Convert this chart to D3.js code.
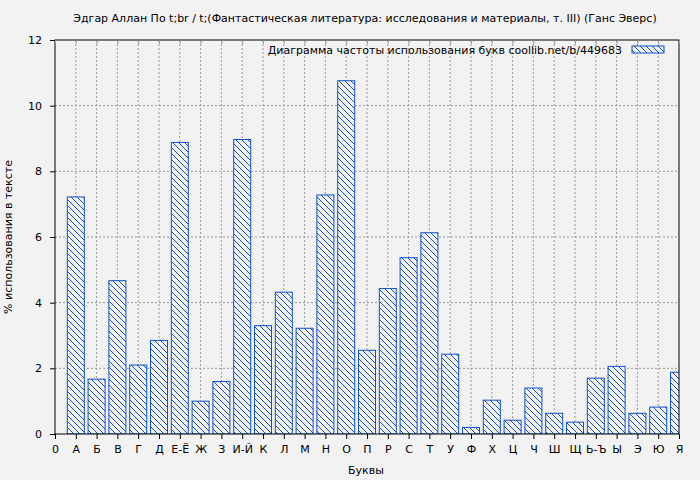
<!DOCTYPE html>
<html lang="ru">
<head>
<meta charset="UTF-8">
<title>Chart</title>
<style>
  body { margin: 0; background: #f2f2f2; }
  text { font-family: "DejaVu Sans", sans-serif; font-size: 11px; fill: #000; }
</style>
</head>
<body>
<div id="root"></div>
<script src="https://d3js.org/d3.v7.min.js"></script>
<script>
const letters = ["0","А","Б","В","Г","Д","Е-Ё","Ж","З","И-Й","К","Л","М","Н","О","П","Р","С","Т","У","Ф","Х","Ц","Ч","Ш","Щ","Ь-Ъ","Ы","Э","Ю","Я"]
const values = [7.22,1.67,4.67,2.1,2.85,8.88,1.0,1.6,8.97,3.3,4.32,3.22,7.28,10.76,2.55,4.43,5.37,6.13,2.43,0.2,1.03,0.42,1.4,0.63,0.36,1.7,2.06,0.63,0.82,1.88]
const yTicks = [0,2,4,6,8,10,12]

const W = 700, H = 480
const margin = {top: 40, right: 21, bottom: 46, left: 55}
const blue = "#1050c8"

const svg = d3.select("#root").append("svg").attr("width", W).attr("height", H)
svg.append("rect").attr("width", W).attr("height", H).attr("fill", "#f2f2f2")

const defs = svg.append("defs")
const pat = defs.append("pattern").attr("id", "hatch").attr("patternUnits", "userSpaceOnUse")
  .attr("width", 6).attr("height", 6)
pat.append("rect").attr("width", 6).attr("height", 6).attr("fill", "#f2f2f2")
pat.append("path").attr("d", "M0,0 L6,6 M-3,3 L3,9 M3,-3 L9,3").attr("stroke", blue).attr("stroke-width", 1)
defs.append("clipPath").attr("id", "clip").append("rect")
  .attr("x", margin.left).attr("y", margin.top)
  .attr("width", W - margin.left - margin.right).attr("height", H - margin.top - margin.bottom)

const x = d3.scaleLinear().domain([0, letters.length - 1]).range([margin.left, W - margin.right])
const y = d3.scaleLinear().domain([0, 12]).range([H - margin.bottom, margin.top])

// grid
svg.append("g").selectAll("line").data(d3.range(1, letters.length - 1)).join("line")
  .attr("x1", d => x(d)).attr("x2", d => x(d)).attr("y1", y(0)).attr("y2", y(12))
  .attr("stroke", "#999").attr("stroke-dasharray", "2,2")
svg.append("g").selectAll("line").data(yTicks.slice(1, -1)).join("line")
  .attr("x1", x(0)).attr("x2", x(letters.length - 1)).attr("y1", d => y(d)).attr("y2", d => y(d))
  .attr("stroke", "#999").attr("stroke-dasharray", "2,2")

// bars
const bw = 17
svg.append("g").attr("clip-path", "url(#clip)").selectAll("rect").data(values).join("rect")
  .attr("x", (d, i) => x(i + 1) - bw / 2).attr("width", bw)
  .attr("y", d => y(d)).attr("height", d => y(0) - y(d))
  .attr("fill", "url(#hatch)").attr("stroke", blue).attr("stroke-width", 1)

// frame
svg.append("rect").attr("x", x(0)).attr("y", y(12)).attr("width", x(letters.length - 1) - x(0))
  .attr("height", y(0) - y(12)).attr("fill", "none").attr("stroke", "#000")

// axes
const xAxis = d3.axisBottom(x).tickValues(d3.range(letters.length)).tickFormat(i => letters[i]).tickSize(5).tickPadding(6)
svg.append("g").attr("transform", `translate(0,${y(0)})`).call(xAxis)
  .call(g => g.select(".domain").remove())
const xTop = d3.axisBottom(x).tickValues(d3.range(letters.length)).tickFormat("").tickSize(4)
svg.append("g").attr("transform", `translate(0,${y(12)})`).call(xTop).call(g => g.select(".domain").remove())
  .selectAll("line").attr("stroke", "#999")
const yAxis = d3.axisLeft(y).tickValues(yTicks).tickSize(5).tickPadding(8)
svg.append("g").attr("transform", `translate(${x(0)},0)`).call(yAxis).call(g => g.select(".domain").remove())
svg.selectAll(".tick text").style("font-family", "DejaVu Sans").style("font-size", "11px")

// titles
svg.append("text").attr("x", 365).attr("y", 22).attr("text-anchor", "middle")
  .text("Эдгар Аллан По  t;br /   t;(Фантастическая литература: исследования и материалы, т. III) (Ганс Эверс)")
svg.append("text").attr("x", 366).attr("y", 474).attr("text-anchor", "middle").text("Буквы")
svg.append("text").attr("transform", `translate(12,${(y(0) + y(12)) / 2}) rotate(-90)`)
  .attr("text-anchor", "middle").text("% использования в тексте")

// legend
svg.append("text").attr("x", 622).attr("y", 54).attr("text-anchor", "end")
  .text("Диаграмма частоты использования букв  coollib.net/b/449683")
svg.append("rect").attr("x", 632).attr("y", 46).attr("width", 32).attr("height", 7)
  .attr("fill", "url(#hatch)").attr("stroke", blue)
</script>
</body>
</html>
